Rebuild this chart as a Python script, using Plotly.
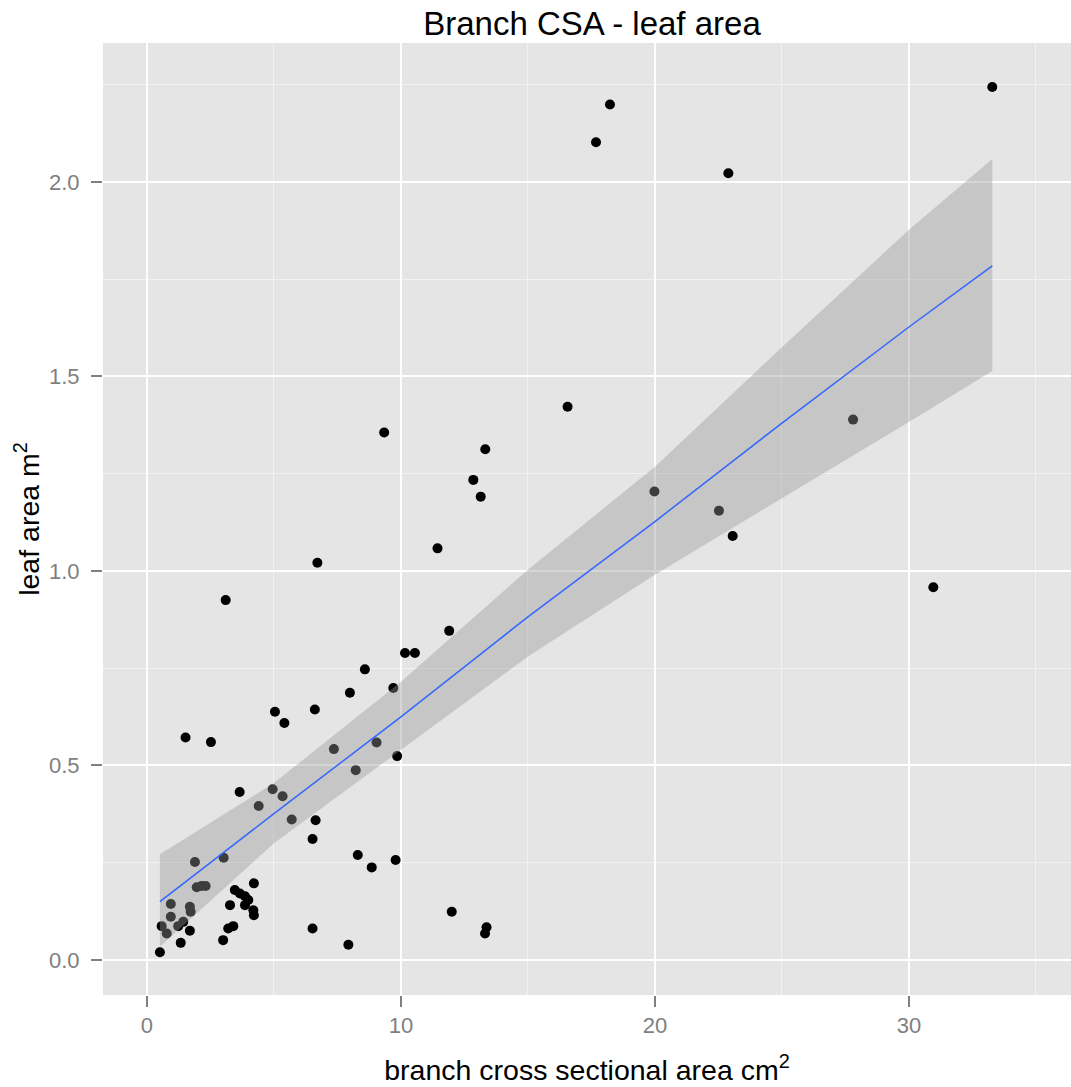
import plotly.graph_objects as go

# branch cross sectional area (cm^2) and leaf area (m^2)
csa = [5.04, 5.41, 1.52, 2.52, 3.65, 4.95, 5.34, 4.40, 5.70, 1.89,
       3.02, 1.96, 2.15, 2.31, 3.46, 3.66, 3.86, 3.99, 3.86, 4.21,
       4.19, 4.21, 3.27, 0.94, 0.94, 1.69, 1.72, 0.58, 0.78, 1.23,
       1.43, 1.69, 1.33, 0.51, 3.00, 3.20, 3.40,
       10.16, 10.55, 8.58, 7.99, 9.70, 6.61, 7.36, 9.04, 9.85, 8.22,
       6.64, 6.52, 8.30, 8.85, 9.79, 6.52, 7.93, 12.00, 13.37, 13.31,
       9.34, 13.32, 12.85, 13.14, 11.44, 6.71, 3.10, 11.90,
       18.23, 17.68, 22.89, 16.56, 19.98, 22.52, 23.06,
       27.80, 30.96, 33.28]
leaf = [0.638, 0.609, 0.572, 0.560, 0.432, 0.439, 0.421, 0.396, 0.361, 0.252,
        0.263, 0.187, 0.190, 0.190, 0.180, 0.171, 0.164, 0.154, 0.141, 0.197,
        0.128, 0.115, 0.141, 0.144, 0.111, 0.137, 0.124, 0.087, 0.068, 0.087,
        0.098, 0.075, 0.044, 0.020, 0.051, 0.081, 0.087,
        0.789, 0.789, 0.747, 0.687, 0.699, 0.644, 0.542, 0.559, 0.524, 0.488,
        0.359, 0.311, 0.270, 0.238, 0.257, 0.081, 0.039, 0.124, 0.084, 0.068,
        1.356, 1.313, 1.234, 1.191, 1.058, 1.021, 0.925, 0.846,
        2.199, 2.102, 2.022, 1.422, 1.204, 1.155, 1.090,
        1.389, 0.958, 2.244]

# linear smooth and its confidence band
smooth_x = [0.51, 5, 10, 15, 20, 25, 30, 33.28]
smooth_fit = [0.150, 0.376, 0.625, 0.882, 1.127, 1.380, 1.627, 1.784]
smooth_upper = [0.272, 0.455, 0.715, 1.003, 1.268, 1.575, 1.877, 2.059]
smooth_lower = [0.034, 0.300, 0.540, 0.780, 0.990, 1.187, 1.383, 1.514]

x_ticks = [0, 10, 20, 30]
y_ticks = [0.0, 0.5, 1.0, 1.5, 2.0]
y_tick_labels = ["0.0", "0.5", "1.0", "1.5", "2.0"]

title_text = "Branch CSA - leaf area"
x_title = "branch cross sectional area cm<sup>2</sup>"
y_title = "leaf area m<sup>2</sup>"

FONT = "Liberation Sans, Arial, sans-serif"

fig = go.Figure()
fig.add_trace(go.Scatter(
    x=csa, y=leaf, mode="markers",
    marker=dict(color="black", size=10, line=dict(width=0)),
    showlegend=False, hoverinfo="x+y"))
fig.add_trace(go.Scatter(
    x=smooth_x + smooth_x[::-1], y=smooth_upper + smooth_lower[::-1],
    mode="lines", fill="toself", fillcolor="rgba(153,153,153,0.4)",
    line=dict(width=0), showlegend=False, hoverinfo="skip"))
fig.add_trace(go.Scatter(
    x=smooth_x, y=smooth_fit, mode="lines", line=dict(color="#3366FF", width=1.5),
    showlegend=False, hoverinfo="skip"))

fig.update_layout(
    width=1071, height=1087,
    margin=dict(l=103, r=0, t=43, b=92),
    paper_bgcolor="white", plot_bgcolor="#E5E5E5",
    font=dict(family=FONT, color="black"),
    title=dict(text=title_text, xref="container", yref="container",
               x=592 / 1071, xanchor="center", y=1 - 23 / 1087, yanchor="middle",
               font=dict(size=33, color="black", family=FONT)),
)
fig.update_xaxes(
    range=[-1.73, 36.38], tickvals=x_ticks, ticktext=[str(v) for v in x_ticks],
    showgrid=True, gridcolor="white", gridwidth=2, zeroline=False,
    minor=dict(dtick=5, tick0=0, showgrid=True, gridcolor="#F2F2F2", gridwidth=1.3),
    ticks="outside", ticklen=11, tickwidth=2, tickcolor="#7F7F7F",
    tickfont=dict(size=22, color="#7F7F7F", family=FONT),
    showline=False, automargin=False,
    title=dict(text=x_title, font=dict(size=28.5, color="black", family=FONT), standoff=22),
)
fig.update_yaxes(
    range=[-0.09, 2.357], tickvals=y_ticks, ticktext=y_tick_labels,
    showgrid=True, gridcolor="white", gridwidth=2, zeroline=False,
    minor=dict(dtick=0.25, tick0=0, showgrid=True, gridcolor="#F2F2F2", gridwidth=1.3),
    ticks="outside", ticklen=11, tickwidth=2, tickcolor="#7F7F7F",
    tickfont=dict(size=22, color="#7F7F7F", family=FONT),
    ticklabelstandoff=7,
    showline=False, automargin=False,
    title=dict(text=y_title, font=dict(size=28.5, color="black", family=FONT), standoff=1),
)

fig.write_html("out.html", config={"displayModeBar": False},
               post_script="document.body.style.margin='0';document.body.style.overflow='hidden';")
